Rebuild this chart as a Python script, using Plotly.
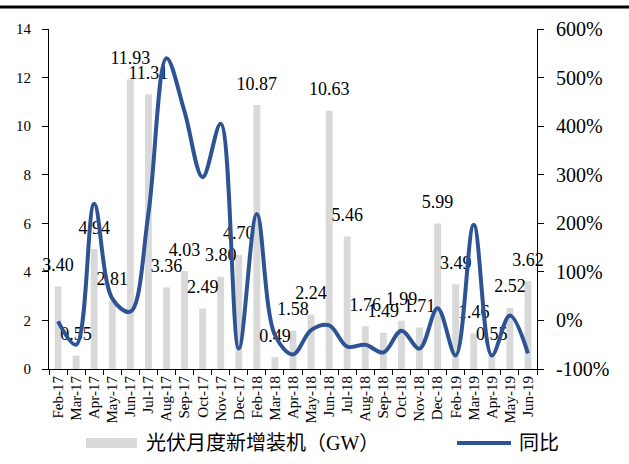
import plotly.graph_objects as go

# Monthly PV additions (GW) and year-on-year change
months = ["Feb-17", "Mar-17", "Apr-17", "May-17", "Jun-17", "Jul-17", "Aug-17",
          "Sep-17", "Oct-17", "Nov-17", "Dec-17", "Feb-18", "Mar-18", "Apr-18",
          "May-18", "Jun-18", "Jul-18", "Aug-18", "Sep-18", "Oct-18", "Nov-18",
          "Dec-18", "Feb-19", "Mar-19", "Apr-19", "May-19", "Jun-19"]
new_capacity_gw = [3.40, 0.55, 4.94, 2.81, 11.93, 11.31, 3.36, 4.03, 2.49, 3.80,
                   4.70, 10.87, 0.49, 1.58, 2.24, 10.63, 5.46, 1.76, 1.49, 1.99,
                   1.71, 5.99, 3.49, 1.46, 0.55, 2.52, 3.62]
yoy_change = [-0.02, -0.50, 2.40, 0.45, 0.18, 2.20, 5.40, 4.30, 2.95, 4.05,
              -0.58, 2.19, -0.30, -0.70, -0.20, -0.10, -0.54, -0.50, -0.66, -0.21,
              -0.58, 0.25, -0.72, 1.97, -0.72, 0.10, -0.68]

left_ticks = [0, 2, 4, 6, 8, 10, 12, 14]
right_ticks = [-1, 0, 1, 2, 3, 4, 5, 6]
right_tick_text = ["-100%", "0%", "100%", "200%", "300%", "400%", "500%", "600%"]

bar_label = "光伏月度新增装机（GW）"
line_label = "同比"

SERIF = "Liberation Serif, Times New Roman, Noto Sans CJK SC"
BAR_COLOR = "#D9D9D9"
LINE_COLOR = "#2E5394"

fig = go.Figure()

fig.add_trace(go.Bar(
    x=months, y=new_capacity_gw, name=bar_label,
    marker=dict(color=BAR_COLOR, line=dict(width=0)),
    hoverinfo="skip",
))

# value labels above each bar (transparent markers push the text upward)
fig.add_trace(go.Scatter(
    x=months, y=new_capacity_gw, mode="markers+text",
    text=[f"{v:.2f}" for v in new_capacity_gw],
    textposition="top center",
    textfont=dict(family=SERIF, size=18, color="black"),
    marker=dict(size=16, color="rgba(0,0,0,0)"),
    hoverinfo="skip", showlegend=False, cliponaxis=False,
))

fig.add_trace(go.Scatter(
    x=months, y=yoy_change, name=line_label, yaxis="y2",
    mode="lines", line=dict(color=LINE_COLOR, width=4, shape="spline", smoothing=1.0),
    hoverinfo="skip",
))

W, H = 629, 464
L, R, T, B = 49, 92, 29, 95
pw, ph = W - L - R, H - T - B


def px_x(x):
    return (x - L) / pw


def px_y(y):
    return (H - B - y) / ph


shapes = [
    # heavy rule across the top
    dict(type="line", xref="paper", yref="paper", x0=px_x(0), x1=px_x(W),
         y0=px_y(7), y1=px_y(7), line=dict(color="black", width=3)),
    # legend swatches
    dict(type="rect", xref="paper", yref="paper", x0=px_x(86), x1=px_x(137),
         y0=px_y(448), y1=px_y(438), fillcolor=BAR_COLOR, line=dict(width=0)),
    dict(type="line", xref="paper", yref="paper", x0=px_x(457), x1=px_x(511),
         y0=px_y(443), y1=px_y(443), line=dict(color=LINE_COLOR, width=4)),
]

annotations = [
    dict(xref="paper", yref="paper", x=px_x(144), y=px_y(443), text=bar_label,
         showarrow=False, xanchor="left", yanchor="middle",
         font=dict(family=SERIF, size=20, color="black")),
    dict(xref="paper", yref="paper", x=px_x(517), y=px_y(443), text=line_label,
         showarrow=False, xanchor="left", yanchor="middle",
         font=dict(family=SERIF, size=20, color="black")),
]

fig.update_layout(
    width=W, height=H,
    margin=dict(l=L, r=R, t=T, b=B, autoexpand=False),
    paper_bgcolor="white", plot_bgcolor="white",
    showlegend=False, bargap=0.62,
    font=dict(family=SERIF, color="black"),
    shapes=shapes, annotations=annotations,
    xaxis=dict(
        type="category", tickangle=-90, tickson="boundaries",
        ticks="outside", ticklen=5, tickcolor="black", showline=True,
        linecolor="black", linewidth=1, showgrid=False, zeroline=False,
        tickfont=dict(family=SERIF, size=15, color="black"),
        range=[-0.5, len(months) - 0.5],
    ),
    yaxis=dict(
        range=[0, 14], tickvals=left_ticks, ticks="outside", ticklen=6,
        tickcolor="black", showline=True, linecolor="black", linewidth=1,
        showgrid=False, zeroline=False, ticklabelstandoff=8,
        tickfont=dict(family=SERIF, size=15, color="black"),
    ),
    yaxis2=dict(
        overlaying="y", side="right", range=[-1, 6], tickvals=right_ticks,
        ticktext=right_tick_text, ticks="outside", ticklen=6, tickcolor="black",
        showline=True, linecolor="black", linewidth=1, showgrid=False,
        zeroline=False, ticklabelstandoff=8,
        tickfont=dict(family=SERIF, size=20, color="black"),
    ),
)

fig.write_html("out.html")
